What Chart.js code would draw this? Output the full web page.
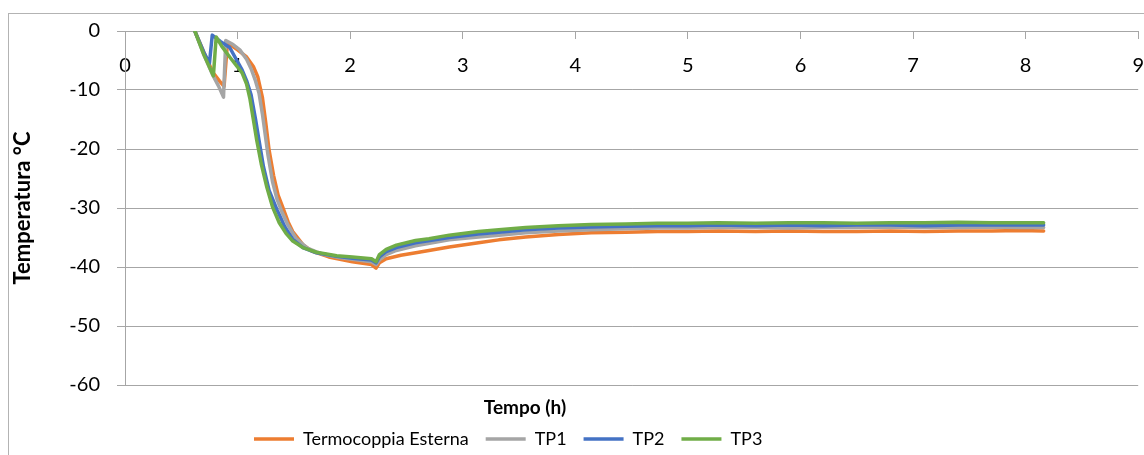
<!DOCTYPE html>
<html>
<head>
<meta charset="utf-8">
<script src="https://cdn.jsdelivr.net/npm/chart.js@4/dist/chart.umd.min.js"></script>
<style>
  html, body { margin: 0; padding: 0; background: #fff; overflow: hidden; }
  #wrap { position: relative; width: 1144px; height: 455px; overflow: hidden; }
  #frame { position: absolute; left: 8px; top: 13px; width: 1200px; height: 500px; border: 1px solid #b3b3b3; }
  #myChart { position: absolute; left: 0; top: 0; }
</style>
</head>
<body>
<div id="wrap">
  <div id="frame"></div>
  <canvas id="myChart" width="1160" height="480"></canvas>
</div>
<script>
const seriesNames = ['Termocoppia Esterna', 'TP1', 'TP2', 'TP3'];
const seriesColors = ['#ED7D31', '#A5A5A5', '#4472C4', '#70AD47'];
const xTicks = [0, 1, 2, 3, 4, 5, 6, 7, 8, 9];
const yTicks = [0, -10, -20, -30, -40, -50, -60];

// Termocoppia Esterna
const timeEsterna = [0.45, 0.62, 0.70, 0.78, 0.84, 0.88, 0.91, 1.00, 1.08, 1.14, 1.18, 1.22, 1.25, 1.28, 1.32, 1.36, 1.40, 1.45, 1.49, 1.58, 1.66, 1.81, 2.02, 2.19, 2.23, 2.26, 2.32, 2.45, 2.61, 2.88, 3.14, 3.32, 3.56, 3.85, 4.14, 4.45, 4.73, 5.00, 5.27, 5.60, 5.90, 6.20, 6.50, 6.80, 7.10, 7.40, 7.70, 7.95, 8.16];
const tempEsterna = [7.5, 0, -3.6, -7.0, -8.5, -9.4, -2.0, -3.2, -4.4, -6.0, -7.8, -11.2, -15.5, -20.2, -24.5, -27.8, -29.8, -32.4, -34.0, -36.2, -37.3, -38.3, -39.1, -39.6, -40.2, -39.3, -38.6, -38.0, -37.5, -36.6, -35.9, -35.4, -34.9, -34.5, -34.2, -34.1, -34.0, -34.0, -33.9, -34.0, -33.9, -34.0, -34.0, -33.9, -34.0, -33.9, -33.9, -33.8, -33.9];

// TP1
const timeTP1 = [0.45, 0.62, 0.70, 0.78, 0.83, 0.875, 0.895, 0.96, 1.02, 1.08, 1.12, 1.16, 1.19, 1.22, 1.24, 1.27, 1.31, 1.35, 1.39, 1.45, 1.52, 1.62, 1.75, 1.90, 2.02, 2.19, 2.23, 2.26, 2.32, 2.41, 2.58, 2.88, 3.14, 3.32, 3.56, 3.85, 4.14, 4.45, 4.73, 5.00, 5.27, 5.60, 5.90, 6.20, 6.50, 6.80, 7.10, 7.40, 7.70, 7.95, 8.16];
const tempTP1 = [7.5, 0, -4.0, -7.5, -9.3, -11.2, -1.6, -2.3, -3.2, -4.8, -6.4, -8.5, -10.5, -14.0, -16.8, -21.0, -25.5, -28.5, -30.5, -33.0, -35.2, -36.8, -37.8, -38.4, -38.7, -39.1, -39.6, -38.8, -37.9, -37.2, -36.4, -35.4, -34.9, -34.6, -34.2, -33.9, -33.7, -33.5, -33.4, -33.4, -33.3, -33.3, -33.4, -33.3, -33.3, -33.2, -33.3, -33.3, -33.2, -33.3, -33.3];

// TP2
const timeTP2 = [0.45, 0.62, 0.70, 0.75, 0.775, 0.85, 0.93, 1.04, 1.08, 1.12, 1.16, 1.19, 1.23, 1.28, 1.35, 1.42, 1.49, 1.58, 1.70, 1.88, 2.02, 2.19, 2.23, 2.26, 2.32, 2.41, 2.58, 2.88, 3.14, 3.32, 3.56, 3.85, 4.14, 4.45, 4.73, 5.00, 5.27, 5.60, 5.90, 6.20, 6.50, 6.80, 7.10, 7.40, 7.70, 7.95, 8.16];
const tempTP2 = [7.5, 0, -3.6, -5.5, -0.7, -1.8, -2.8, -6.6, -8.4, -10.8, -15.0, -18.5, -23.0, -27.0, -30.3, -33.2, -35.3, -36.7, -37.6, -38.2, -38.5, -38.8, -39.3, -38.3, -37.4, -36.7, -35.9, -35.0, -34.4, -34.1, -33.7, -33.4, -33.2, -33.1, -33.0, -33.0, -32.9, -33.0, -32.9, -33.0, -32.9, -32.9, -33.0, -32.9, -32.9, -32.9, -32.9];

// TP3
const timeTP3 = [0.45, 0.62, 0.70, 0.785, 0.81, 0.86, 0.93, 1.04, 1.08, 1.11, 1.14, 1.17, 1.21, 1.26, 1.31, 1.37, 1.43, 1.49, 1.58, 1.70, 1.88, 2.02, 2.19, 2.23, 2.26, 2.32, 2.41, 2.58, 2.70, 2.88, 3.14, 3.32, 3.56, 3.85, 4.14, 4.45, 4.73, 5.00, 5.27, 5.60, 5.90, 6.20, 6.50, 6.80, 7.10, 7.40, 7.70, 7.95, 8.16];
const tempTP3 = [7.5, 0, -4.0, -7.6, -1.0, -2.6, -4.4, -7.1, -9.0, -11.5, -15.0, -18.5, -22.5, -26.5, -29.8, -32.5, -34.3, -35.6, -36.7, -37.5, -38.1, -38.3, -38.6, -39.1, -37.9, -37.0, -36.3, -35.5, -35.2, -34.6, -34.0, -33.7, -33.3, -33.0, -32.8, -32.7, -32.6, -32.6, -32.5, -32.6, -32.5, -32.5, -32.6, -32.5, -32.5, -32.4, -32.5, -32.5, -32.5];

const seriesTimes = [timeEsterna, timeTP1, timeTP2, timeTP3];
const seriesTemps = [tempEsterna, tempTP1, tempTP2, tempTP3];

const gridGray = '#a6a6a6';
Chart.defaults.font.family = "Lato, 'Liberation Sans', sans-serif";
Chart.defaults.font.size = 18;
Chart.defaults.color = '#000';

const datasets = seriesNames.map((name, i) => ({
    label: name,
    data: seriesTimes[i].map((t, j) => ({ x: t, y: seriesTemps[i][j] })),
    borderColor: seriesColors[i],
    backgroundColor: seriesColors[i],
    borderWidth: 3.5,
    pointRadius: 0,
    tension: 0,
    fill: false,
    borderJoinStyle: 'round',
    borderCapStyle: 'round',
    order: seriesNames.length - i
}));

// put legend and x title where excel had them
const placeBoxes = {
    id: 'placeBoxes',
    afterLayout(chart) {
        const lg = chart.legend;
        const h = lg.bottom - lg.top;
        lg.left = 237;
        lg.right = 1160;
        lg.top = 413;
        lg.bottom = lg.top + h;
        const t = chart.scales.xTitle;
        t.left = 425;
        t.right = 625;
    }
};

const config = {
    type: 'line',
    data: { datasets: datasets },
    options: {
        responsive: false,
        animation: false,
        layout: { padding: { left: 0, top: 31, right: 19, bottom: 0 } },
        scales: {
            x: {
                type: 'linear',
                position: { y: 0 },
                min: xTicks[0],
                max: xTicks[xTicks.length - 1],
                ticks: { stepSize: 1, padding: 16, maxRotation: 0, font: { size: 20 } },
                grid: { drawOnChartArea: false, drawTicks: true, tickLength: 7, color: gridGray },
                border: { color: gridGray }
            },
            xTitle: {
                type: 'linear',
                axis: 'x',
                position: 'bottom',
                ticks: { display: false },
                grid: { display: false },
                border: { display: false },
                title: { display: true, text: 'Tempo (h)', font: { weight: 'bold', size: 19 }, padding: { top: 0, bottom: 16 } },
                afterFit: s => { s.height = 50; }
            },
            y: {
                type: 'linear',
                position: 'left',
                min: yTicks[yTicks.length - 1],
                max: yTicks[0],
                ticks: { stepSize: 10, padding: 17, font: { size: 20 } },
                grid: { color: gridGray, tickLength: 8 },
                border: { color: gridGray },
                title: { display: true, text: 'Temperatura °C', font: { weight: 'bold', size: 22 }, padding: { top: 10, bottom: 0 } },
                afterFit: s => { s.width = 125; }
            }
        },
        plugins: {
            legend: {
                position: 'bottom',
                align: 'start',
                labels: {
                    usePointStyle: true,
                    pointStyle: 'line',
                    pointStyleWidth: 40,
                    boxWidth: 40,
                    padding: 17,
                    sort: (a, b) => a.datasetIndex - b.datasetIndex
                }
            },
            tooltip: { enabled: false }
        }
    },
    plugins: [placeBoxes]
};

const myChart = new Chart(document.getElementById('myChart'), config);
</script>
</body>
</html>
